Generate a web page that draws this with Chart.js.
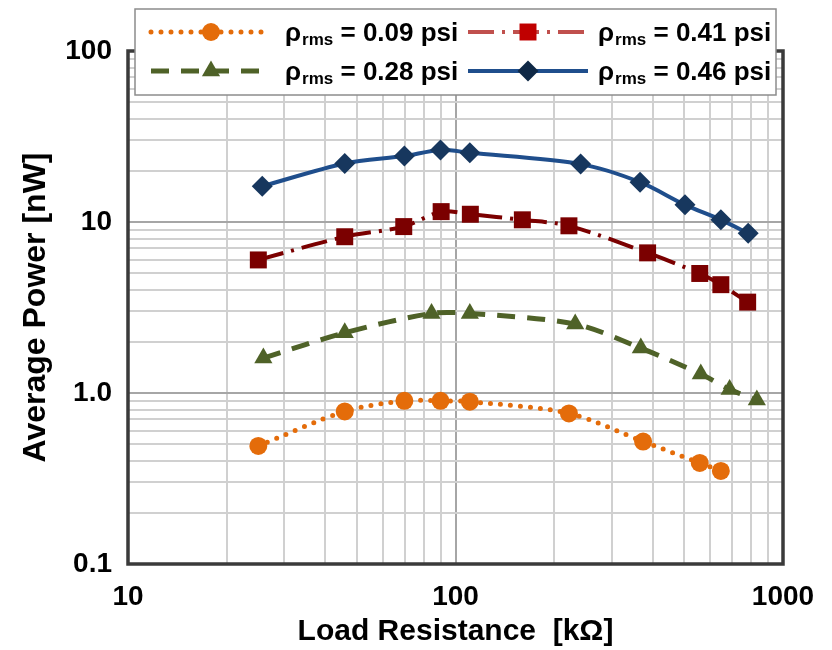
<!DOCTYPE html>
<html><head><meta charset="utf-8">
<script src="https://cdn.jsdelivr.net/npm/chart.js@4.4.1/dist/chart.umd.min.js"></script>
<style>html,body{margin:0;padding:0;background:#fff;}#wrap{width:832px;height:650px;}</style>
</head><body><div id="wrap"><canvas id="c" width="832" height="650"></canvas></div>
<script>
// ---- data ----
const seriesLabels = ['0.09', '0.41', '0.28', '0.46'];
const xOrange = [25.0, 45.9, 69.8, 90, 110.6, 222, 374, 557, 646];
const yOrange = [0.49, 0.78, 0.90, 0.90, 0.89, 0.76, 0.52, 0.39, 0.35];
const xRed = [25.0, 45.9, 69.5, 90.4, 111, 160, 222, 386, 557, 646, 780];
const yRed = [6.0, 8.2, 9.4, 11.5, 11.1, 10.3, 9.5, 6.6, 5.0, 4.3, 3.4];
const xGreen = [25.9, 45.9, 84.5, 110.6, 232, 368, 561, 687, 832];
const yGreen = [1.60, 2.25, 2.92, 2.92, 2.53, 1.83, 1.29, 1.05, 0.91];
const xBlue = [25.7, 45.9, 69.8, 90, 110.6, 241, 366, 502, 646, 783];
const yBlue = [16.2, 22.0, 24.3, 26.4, 25.4, 21.8, 17.1, 12.6, 10.3, 8.6];
const xDecades = [10, 100];
const yDecades = [0.1, 1, 10];
const gridMultipliers = [1, 2, 3, 4, 5, 6, 7, 8, 9];
const xTickLabels = {10: '10', 100: '100', 1000: '1000'};
const yTickLabels = {0.1: '0.1', 1: '1.0', 10: '10', 100: '100'};

function pts(xs, ys) { return xs.map((x, i) => ({x: x, y: ys[i]})); }
function gridValues(decades, last) {
  const out = [];
  decades.forEach(d => gridMultipliers.forEach(m => out.push(+(d * m).toPrecision(6))));
  out.push(last);
  return out;
}
const xGrid = gridValues(xDecades, 1000);
const yGrid = gridValues(yDecades, 100);
function isMajor(v, labels) { return Object.keys(labels).some(k => Math.abs(+k - v) < 1e-9); }
function labelFor(v, labels) {
  for (const k of Object.keys(labels)) if (Math.abs(+k - v) < 1e-9) return labels[k];
  return '';
}

const FONT = "'Liberation Sans', Arial, sans-serif";

const datasets = [
  {label: seriesLabels[0], data: pts(xOrange, yOrange), borderColor: '#E46C0A', backgroundColor: '#E46C0A',
   borderWidth: 5, borderDash: [0, 10], borderCapStyle: 'round', pointStyle: 'circle', pointRadius: 9,
   pointBorderWidth: 0, legendLine: '#E46C0A', legendMarker: '#E46C0A'},
  {label: seriesLabels[1], data: pts(xRed, yRed), borderColor: '#7B0000', backgroundColor: '#7B0000',
   borderWidth: 4, borderDash: [26, 8, 3, 8], pointStyle: 'rect', pointRadius: 12,
   pointBorderWidth: 0, legendLine: '#C0504D', legendMarker: '#C00000'},
  {label: seriesLabels[2], data: pts(xGreen, yGreen), borderColor: '#4F6228', backgroundColor: '#4F6228',
   borderWidth: 5, borderDash: [18, 12], pointStyle: 'triangle', pointRadius: 10.5,
   pointBorderWidth: 0, legendLine: '#4F6228', legendMarker: '#4F6228'},
  {label: seriesLabels[3], data: pts(xBlue, yBlue), borderColor: '#1F4E8C', backgroundColor: '#17375E',
   borderWidth: 4, borderDash: [], pointStyle: 'rectRot', pointRadius: 10.5,
   pointBorderWidth: 0, legendLine: '#1F4E8C', legendMarker: '#0F2846'}
];
datasets.forEach(d => { d.showLine = true; d.tension = 0.3; d.fill = false; d.pointHoverRadius = d.pointRadius; });

// legend layout: [dataset index, marker x, row y, text x]
const legendItems = [[0, 211, 32, 285], [1, 528, 32, 598], [2, 211, 71, 285], [3, 528, 71, 598]];

const overlayPlugin = {
  id: 'overlay',
  afterDraw(chart) {
    const ctx = chart.ctx;
    const a = chart.chartArea;
    ctx.save();
    ctx.strokeStyle = '#3a3a3a';
    ctx.lineWidth = 3.5;
    ctx.strokeRect(a.left, a.top, a.right - a.left, a.bottom - a.top);
    ctx.fillStyle = '#ffffff';
    ctx.fillRect(135, 9, 641, 86);
    ctx.strokeStyle = '#8c8c8c';
    ctx.lineWidth = 1.5;
    ctx.strokeRect(135, 9, 641, 86);
    legendItems.forEach(([i, mx, ry, tx]) => {
      const d = chart.data.datasets[i];
      ctx.save();
      ctx.strokeStyle = d.legendLine;
      ctx.lineWidth = d.borderWidth;
      ctx.lineCap = d.borderCapStyle || 'butt';
      ctx.setLineDash(d.borderDash);
      ctx.beginPath();
      ctx.moveTo(mx - 60, ry);
      ctx.lineTo(mx + 60, ry);
      ctx.stroke();
      ctx.restore();
      ctx.fillStyle = d.legendMarker;
      ctx.strokeStyle = d.legendMarker;
      Chart.helpers.drawPoint(ctx, {pointStyle: d.pointStyle, radius: d.pointRadius, rotation: 0, borderWidth: 0}, mx, ry);
      ctx.fillStyle = '#000';
      ctx.textBaseline = 'alphabetic';
      ctx.textAlign = 'left';
      const base = ry + 9;
      ctx.font = 'bold 26px ' + FONT;
      ctx.fillText('ρ', tx, base);
      let x = tx + ctx.measureText('ρ').width + 1;
      ctx.font = 'bold 17px ' + FONT;
      ctx.fillText('rms', x, base + 4);
      x += ctx.measureText('rms').width;
      ctx.font = 'bold 26px ' + FONT;
      ctx.fillText(' = ' + d.label + ' psi', x, base);
    });
    ctx.restore();
  }
};

new Chart(document.getElementById('c'), {
  type: 'scatter',
  data: {datasets: datasets},
  plugins: [overlayPlugin],
  options: {
    responsive: false,
    animation: false,
    devicePixelRatio: 1,
    layout: {padding: {top: 51, right: 49, bottom: 0, left: 0}},
    plugins: {legend: {display: false}, tooltip: {enabled: false}},
    scales: {
      x: {
        type: 'logarithmic', min: 10, max: 1000,
        afterBuildTicks: s => { s.ticks = xGrid.map(v => ({value: v, major: isMajor(v, xTickLabels)})); },
        afterFit: s => { s.height = 86; s.paddingLeft = 0; s.paddingRight = 0; },
        ticks: {autoSkip: false, maxRotation: 0, padding: 16, color: '#000',
          font: {family: FONT, size: 28, weight: 'bold'},
          callback: v => labelFor(v, xTickLabels)},
        grid: {drawTicks: false, lineWidth: 2,
          color: c => (c.tick && isMajor(c.tick.value, xTickLabels)) ? '#a6a6a6' : '#d0d0d0'},
        border: {display: false},
        title: {display: true, text: 'Load Resistance  [kΩ]', color: '#000',
          font: {family: FONT, size: 30, weight: 'bold'}, padding: {top: 0, bottom: 0}}
      },
      y: {
        type: 'logarithmic', min: 0.1, max: 100,
        afterBuildTicks: s => { s.ticks = yGrid.map(v => ({value: v, major: isMajor(v, yTickLabels)})); },
        afterFit: s => { s.width = 128; s.paddingTop = 0; s.paddingBottom = 0; },
        ticks: {autoSkip: false, padding: 16, color: '#000',
          font: {family: FONT, size: 28, weight: 'bold'},
          callback: v => labelFor(v, yTickLabels)},
        grid: {drawTicks: false, lineWidth: 2,
          color: c => (c.tick && isMajor(c.tick.value, yTickLabels)) ? '#a6a6a6' : '#d0d0d0'},
        border: {display: false},
        title: {display: true, text: 'Average Power [nW]', color: '#000',
          font: {family: FONT, size: 32, weight: 'bold'}, padding: {top: 17, bottom: 0}}
      }
    }
  }
});
</script></body></html>
